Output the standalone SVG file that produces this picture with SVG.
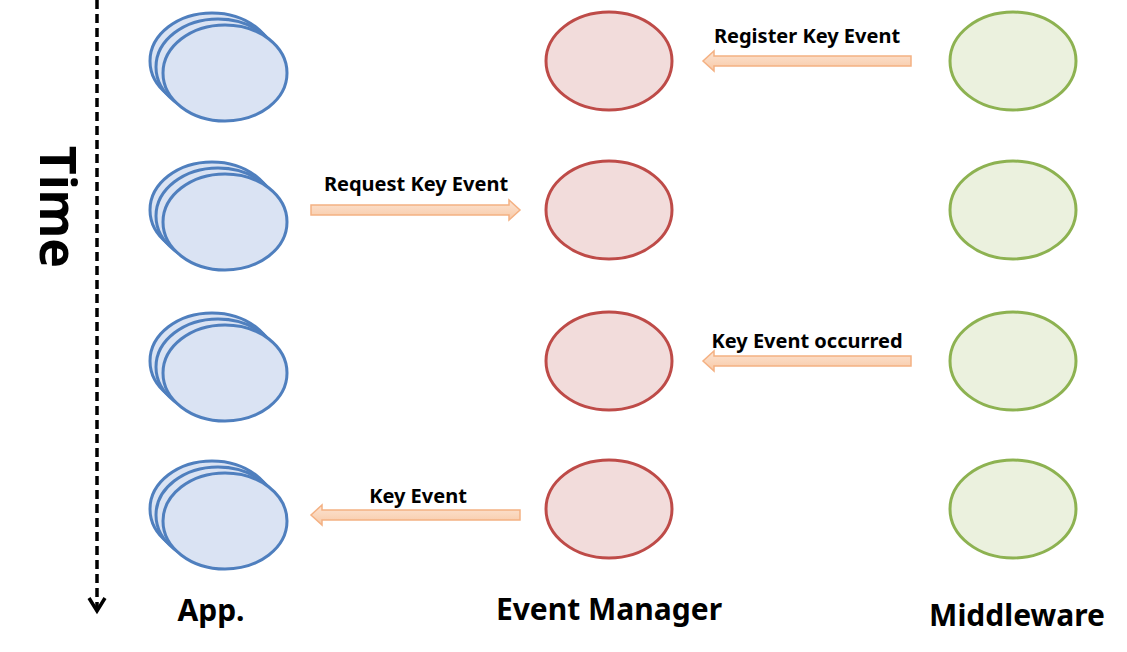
<svg xmlns="http://www.w3.org/2000/svg" width="1127" height="652" viewBox="0 0 1127 652">
<defs>
<linearGradient id="ag" x1="0" y1="0" x2="0" y2="1">
<stop offset="0" stop-color="#FCE4D3"/>
<stop offset="1" stop-color="#F8C9A6"/>
</linearGradient>
<style>
.app{fill:#DAE3F3;stroke:#4F7FBE;stroke-width:3}
.em{fill:#F2DCDB;stroke:#BE4B48;stroke-width:3}
.mw{fill:#EBF1DE;stroke:#8DB251;stroke-width:3}
.arr{fill:url(#ag);stroke:#F4B183;stroke-width:1.5;stroke-linejoin:miter}
.lbl{font-family:"Noto Sans","DejaVu Sans",sans-serif;font-weight:bold;font-size:20px;fill:#000;text-anchor:middle}
.ttl{font-family:"Noto Sans","DejaVu Sans",sans-serif;font-weight:bold;font-size:30px;fill:#000;text-anchor:middle}
</style>
</defs>
<rect width="1127" height="652" fill="#fff"/>
<g id="time-axis">
<line x1="97" y1="0" x2="97" y2="610" stroke="#000" stroke-width="3.5" stroke-dasharray="9,5"/>
<polyline points="89,598 97,611 105,598" fill="none" stroke="#000" stroke-width="3.5"/>
<text transform="translate(40,207) rotate(90)" font-family="'Noto Sans','DejaVu Sans',sans-serif" font-weight="bold" font-size="50" text-anchor="middle">Time</text>
</g>
<g id="app-1"><ellipse class="app" cx="212" cy="61" rx="62" ry="48"/><ellipse class="app" cx="218" cy="67" rx="62" ry="48"/><ellipse class="app" cx="225" cy="73" rx="62" ry="48"/></g>
<g id="app-2"><ellipse class="app" cx="212" cy="210" rx="62" ry="48"/><ellipse class="app" cx="218" cy="216" rx="62" ry="48"/><ellipse class="app" cx="225" cy="222" rx="62" ry="48"/></g>
<g id="app-3"><ellipse class="app" cx="212" cy="361" rx="62" ry="48"/><ellipse class="app" cx="218" cy="367" rx="62" ry="48"/><ellipse class="app" cx="225" cy="373" rx="62" ry="48"/></g>
<g id="app-4"><ellipse class="app" cx="212" cy="509" rx="62" ry="48"/><ellipse class="app" cx="218" cy="515" rx="62" ry="48"/><ellipse class="app" cx="225" cy="521" rx="62" ry="48"/></g>
<g id="em-1"><ellipse class="em" cx="609" cy="61" rx="63" ry="49"/></g>
<g id="em-2"><ellipse class="em" cx="609" cy="210" rx="63" ry="49"/></g>
<g id="em-3"><ellipse class="em" cx="609" cy="361" rx="63" ry="49"/></g>
<g id="em-4"><ellipse class="em" cx="609" cy="509" rx="63" ry="49"/></g>
<g id="mw-1"><ellipse class="mw" cx="1013" cy="61" rx="63" ry="49"/></g>
<g id="mw-2"><ellipse class="mw" cx="1013" cy="210" rx="63" ry="49"/></g>
<g id="mw-3"><ellipse class="mw" cx="1013" cy="361" rx="63" ry="49"/></g>
<g id="mw-4"><ellipse class="mw" cx="1013" cy="509" rx="63" ry="49"/></g>
<g id="connectors">
<path class="arr" d="M911,56 L714,56 L714,51 L703,61 L714,71 L714,66 L911,66 Z"/>
<path class="arr" d="M311,205 L509,205 L509,200 L520,210 L509,220 L509,215 L311,215 Z"/>
<path class="arr" d="M911,356 L714,356 L714,351 L703,361 L714,371 L714,366 L911,366 Z"/>
<path class="arr" d="M520,510 L322,510 L322,505 L311,515 L322,525 L322,520 L520,520 Z"/>
</g>
<g id="labels">
<text class="lbl" x="807" y="43">Register Key Event</text>
<text class="lbl" x="416" y="191">Request Key Event</text>
<text class="lbl" x="807" y="348">Key Event occurred</text>
<text class="lbl" x="418" y="503">Key Event</text>
<text class="ttl" x="211" y="621">App.</text>
<text class="ttl" x="609" y="620">Event Manager</text>
<text class="ttl" x="1017" y="626">Middleware</text>
</g>
</svg>
